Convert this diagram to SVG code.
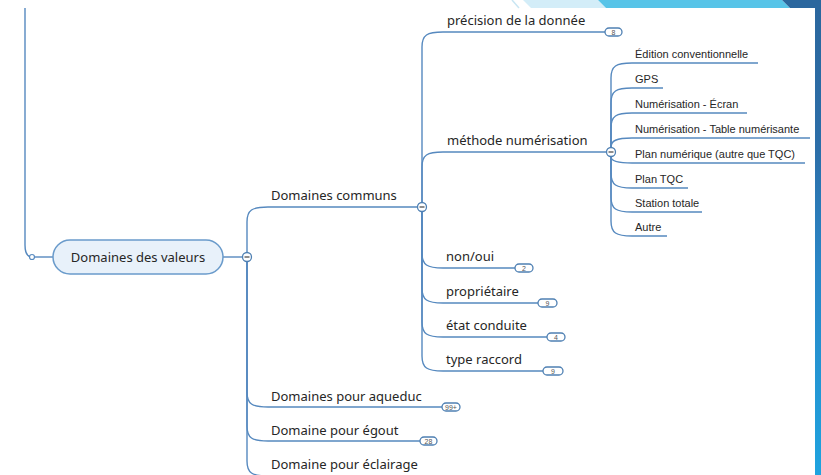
<svg xmlns="http://www.w3.org/2000/svg" width="821" height="475" viewBox="0 0 821 475">
<defs>
<linearGradient id="side" x1="0" y1="0" x2="0" y2="1">
<stop offset="0" stop-color="#2b679e"/>
<stop offset="0.3" stop-color="#2c6ea8"/>
<stop offset="0.55" stop-color="#2a86c6"/>
<stop offset="1" stop-color="#1ea3df"/>
</linearGradient>
<style>
.ln{fill:none;stroke:#5689bf;stroke-width:1.4}
.t1{font-family:"Noto Sans","Open Sans","Liberation Sans",sans-serif;font-size:13px;fill:#262626}
.t3{font-family:"Liberation Sans",Arial,sans-serif;font-size:11px;fill:#262626}
.bd rect{fill:#fff;stroke:#4f80b3;stroke-width:1.3}
.bd text{font-family:"Liberation Sans",Arial,sans-serif;font-size:7px;fill:#555;text-anchor:middle}
.tg circle{fill:#fff;stroke:#4f80b3;stroke-width:1.3}
.tg line{stroke:#444;stroke-width:1.2}
</style>
</defs>
<!-- background decoration -->
<rect x="0" y="0" width="821" height="475" fill="#ffffff"/>
<polygon points="523,0 598,0 606,8 531,8" fill="#d3edf8"/>
<polygon points="598,0 782,0 790,8 606,8" fill="#57c4e8"/>
<polygon points="782,0 821,0 821,8 790,8" fill="#2b679e"/>
<line x1="512" y1="0" x2="519" y2="8" stroke="#c9e6f3" stroke-width="1.5"/>
<rect x="815" y="8" width="6" height="467" fill="url(#side)"/>

<g id="connectors">
<!-- root link -->
<path class="ln" d="M25,8 V245 Q25,257 32,257"/>
<line class="ln" x1="34.5" y1="257" x2="53" y2="257"/>
<line class="ln" x1="223" y1="257" x2="242" y2="257"/>
<!-- level 1 from (247,257) -->
<path class="ln" d="M247,252 V222 C247,210 252,207 268,207 H417"/>
<path class="ln" d="M247,262 V392 C247,404 252,407 268,407 H442"/>
<path class="ln" d="M247,262 V426 C247,438 252,441 268,441 H420"/>
<path class="ln" d="M247,262 V461 C247,473 252,476 268,476 H420"/>
<!-- level 2 from (422,207) -->
<path class="ln" d="M422,202 V47 C422,35 427,32 443,32 H605"/>
<path class="ln" d="M422,202 V167 C422,155 427,152 443,152 H606"/>
<path class="ln" d="M422,212 V253 C422,265 427,268 443,268 H515"/>
<path class="ln" d="M422,212 V288 C422,300 427,303 443,303 H538"/>
<path class="ln" d="M422,212 V322 C422,334 427,337 443,337 H547"/>
<path class="ln" d="M422,212 V356 C422,368 427,371 443,371 H543"/>
<!-- level 3 from (611,152) -->
<path class="ln" d="M611,147 V78 C611,66 616,63 632,63 H758"/>
<path class="ln" d="M611,147 V103 C611,91 616,88 632,88 H663"/>
<path class="ln" d="M611,147 V128 C611,116 616,113 632,113 H747"/>
<path class="ln" d="M611,147 C611,141 616,138 632,138 H810"/>
<path class="ln" d="M611,157 C611,160 616,163 632,163 H805"/>
<path class="ln" d="M611,157 V173 C611,185 616,188 632,188 H688"/>
<path class="ln" d="M611,157 V197 C611,209 616,212 632,212 H702"/>
<path class="ln" d="M611,157 V221 C611,233 616,236 632,236 H667"/>
</g>

<g id="root">
<rect x="53" y="240" width="170" height="34" rx="17" fill="#e8f1fa" stroke="#6a9bcb" stroke-width="1.5"/>
<text class="t1" x="138" y="262" text-anchor="middle">Domaines des valeurs</text>
<circle cx="32" cy="257" r="2.5" fill="#fff" stroke="#5689bf" stroke-width="1.2"/>
<g class="tg"><circle cx="247" cy="257" r="4.5"/><line x1="244.5" y1="257" x2="249.5" y2="257"/></g>
</g>

<g id="domaines-communs">
<text class="t1" x="271" y="200">Domaines communs</text>
<g class="tg"><circle cx="422" cy="207" r="4.5"/><line x1="419.5" y1="207" x2="424.5" y2="207"/></g>
</g>
<g id="domaines-aqueduc">
<text class="t1" x="271" y="401">Domaines pour aqueduc</text>
<g class="bd"><rect x="442" y="403" width="18" height="8" rx="4"/><text x="451" y="409.5">99+</text></g>
</g>
<g id="domaine-egout">
<text class="t1" x="271" y="435">Domaine pour égout</text>
<g class="bd"><rect x="420" y="437" width="17" height="8" rx="4"/><text x="428.5" y="443.5">28</text></g>
</g>
<g id="domaine-eclairage">
<text class="t1" x="271" y="469">Domaine pour éclairage</text>
</g>

<g id="precision">
<text class="t1" x="447" y="25">précision de la donnée</text>
<g class="bd"><rect x="605" y="28" width="17" height="8" rx="4"/><text x="613.5" y="34.5">8</text></g>
</g>
<g id="methode">
<text class="t1" x="447" y="145">méthode numérisation</text>
<g class="tg"><circle cx="611" cy="152" r="4.5"/><line x1="608.5" y1="152" x2="613.5" y2="152"/></g>
</g>
<g id="non-oui">
<text class="t1" x="446" y="261">non/oui</text>
<g class="bd"><rect x="515" y="264" width="18" height="8" rx="4"/><text x="524" y="270.5">2</text></g>
</g>
<g id="proprietaire">
<text class="t1" x="446" y="296">propriétaire</text>
<g class="bd"><rect x="538" y="299" width="19" height="8" rx="4"/><text x="547.5" y="305.5">9</text></g>
</g>
<g id="etat-conduite">
<text class="t1" x="446" y="330">état conduite</text>
<g class="bd"><rect x="547" y="333" width="18" height="8" rx="4"/><text x="556" y="339.5">4</text></g>
</g>
<g id="type-raccord">
<text class="t1" x="446" y="364">type raccord</text>
<g class="bd"><rect x="543" y="367" width="20" height="8" rx="4"/><text x="553" y="373.5">9</text></g>
</g>

<g id="edition"><text class="t3" x="635" y="58">Édition conventionnelle</text></g>
<g id="gps"><text class="t3" x="635" y="83">GPS</text></g>
<g id="num-ecran"><text class="t3" x="635" y="108">Numérisation - Écran</text></g>
<g id="num-table"><text class="t3" x="635" y="133">Numérisation - Table numérisante</text></g>
<g id="plan-numerique"><text class="t3" x="635" y="158">Plan numérique (autre que TQC)</text></g>
<g id="plan-tqc"><text class="t3" x="635" y="183">Plan TQC</text></g>
<g id="station"><text class="t3" x="635" y="207">Station totale</text></g>
<g id="autre"><text class="t3" x="635" y="231">Autre</text></g>
</svg>
